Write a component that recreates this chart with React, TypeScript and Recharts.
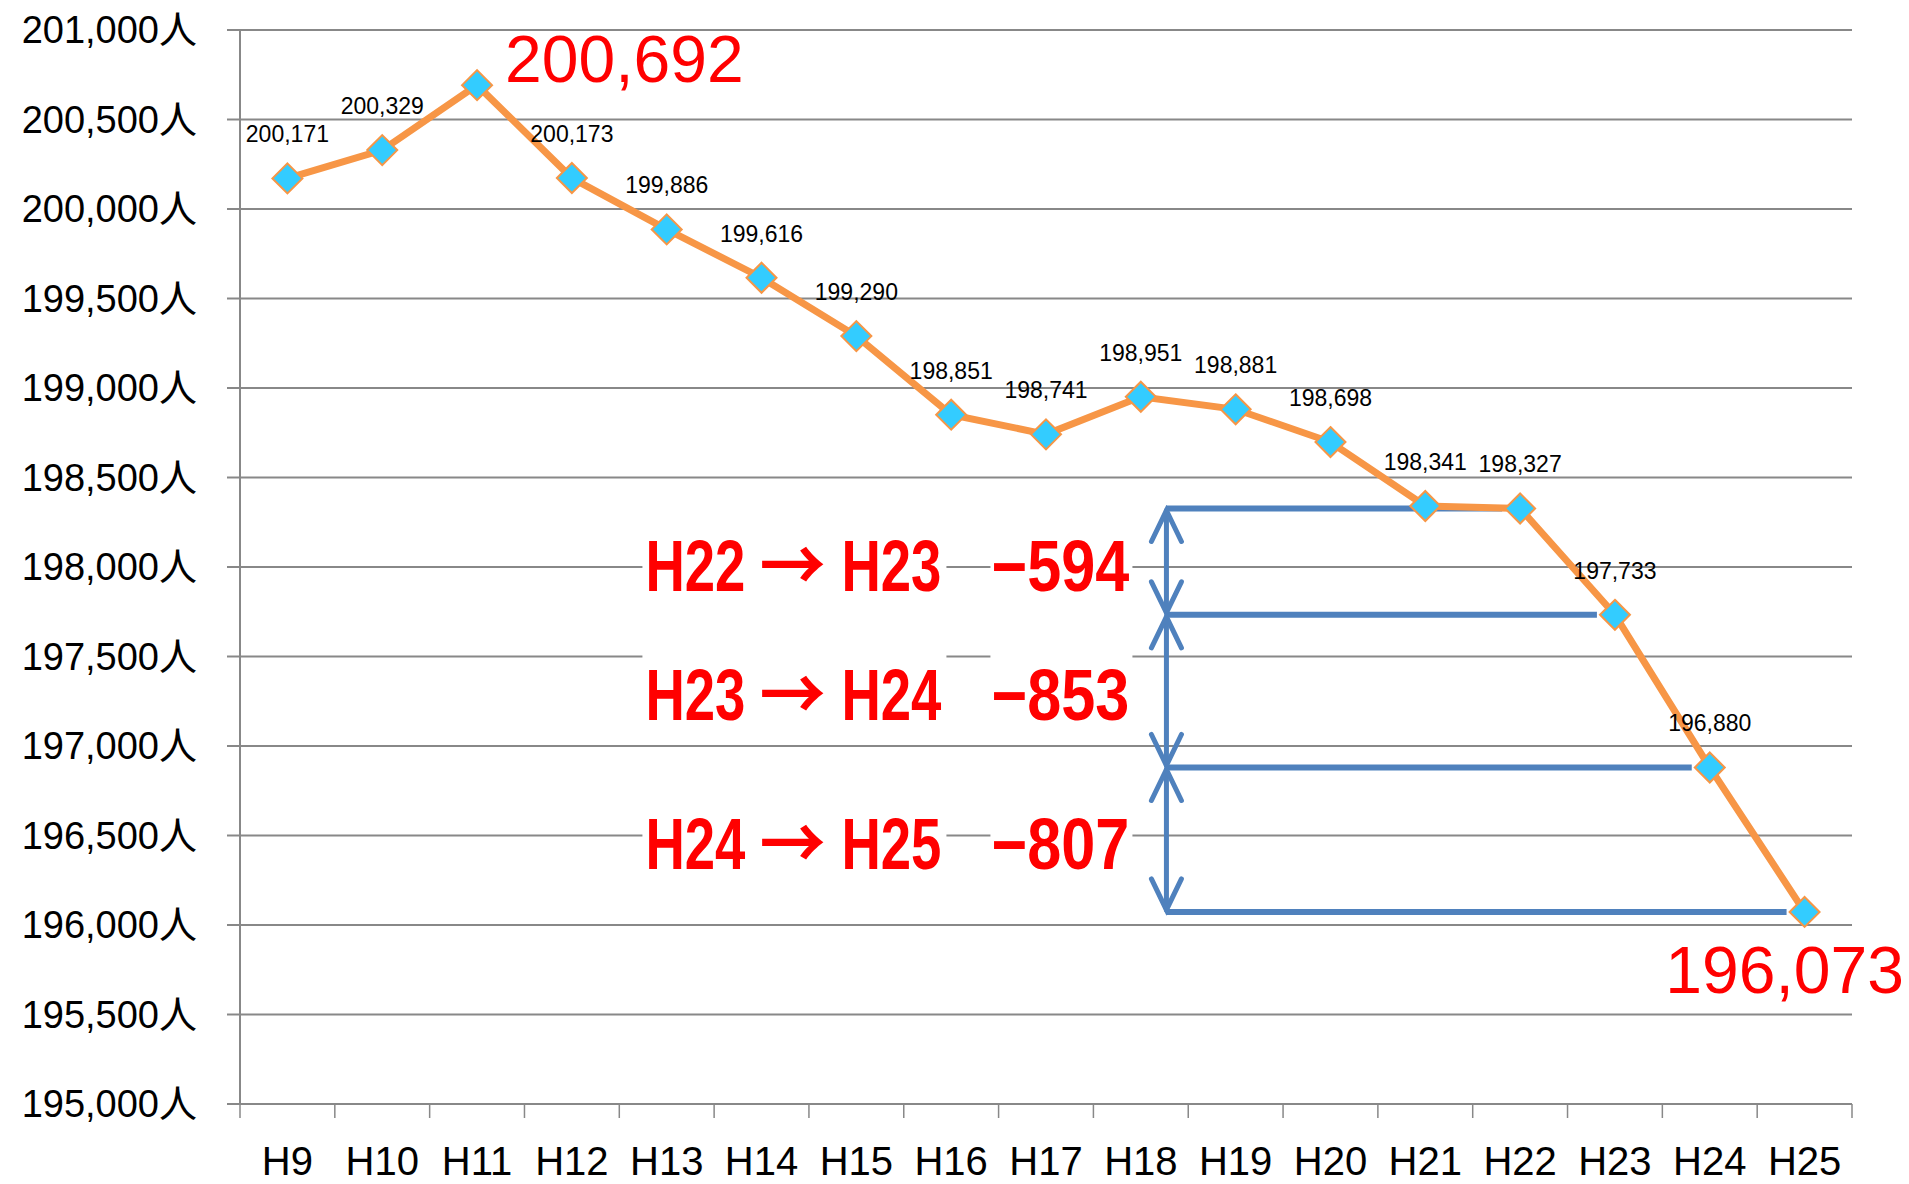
import { LineChart, Line, XAxis, YAxis, CartesianGrid, LabelList, ReferenceLine, ReferenceDot } from "recharts"

const years = ["H9", "H10", "H11", "H12", "H13", "H14", "H15", "H16", "H17", "H18", "H19", "H20", "H21", "H22", "H23", "H24", "H25"]
const population = [200171, 200329, 200692, 200173, 199886, 199616, 199290, 198851, 198741, 198951, 198881, 198698, 198341, 198327, 197733, 196880, 196073]
const yTicks = [195000, 195500, 196000, 196500, 197000, 197500, 198000, 198500, 199000, 199500, 200000, 200500, 201000]
const highlightYears = ["H11", "H25"]
const changeSteps = [
	["H22", "H23"],
	["H23", "H24"],
	["H24", "H25"],
]

const FONT = "'Liberation Sans', 'Noto Sans CJK JP', sans-serif"
const ORANGE = "#F79646"
const BLUE = "#4F81BD"
const GRID = "#888888"
const ARROW_X = 9.77 // position of the double arrows, in x-axis units
const LINE_GAP = 0.19 // blue lines stop a bit before the marker
const X_TICK_LEN = 14
const X_LABEL_GAP = 43

const rows = years.map((year, i) => ({ x: i + 0.5, year, value: population[i] }))
// ticks on every half step: whole numbers get a tick mark, halves get the year label
const xTicks = Array.from({ length: years.length * 2 + 1 }, (_, i) => i / 2)
const fmt = (v: number) => v.toLocaleString("en-US")

function XTick(props: any) {
	const { x, y, payload } = props
	const v = payload.value
	if (Number.isInteger(v)) {
		const top = y - X_LABEL_GAP
		return <line x1={x} y1={top} x2={x} y2={top + X_TICK_LEN} stroke={GRID} strokeWidth={1.5} />
	}
	return (
		<text x={x} y={y} dy="0.71em" textAnchor="middle" fill="#000" fontSize={40} fontFamily={FONT}>
			{years[Math.floor(v)]}
		</text>
	)
}

function Diamond(props: any) {
	const { cx, cy, index } = props
	if (cx == null || cy == null) return null
	const r = 15
	return (
		<path
			key={`dot-${index}`}
			d={`M${cx},${cy - r}L${cx + r},${cy}L${cx},${cy + r}L${cx - r},${cy}Z`}
			fill="#33CCFF"
			stroke={ORANGE}
			strokeWidth={2}
		/>
	)
}

function PointLabel(props: any) {
	const { x, y, value } = props
	const idx = props.index ?? population.indexOf(value)
	const year = years[idx]
	const text = fmt(Number(value))
	if (highlightYears.includes(year)) {
		if (idx === years.length - 1) {
			return (
				<text x={x - 20} y={y + 81} textAnchor="middle" fill="#FF0000" fontSize={66} fontFamily={FONT}>
					{text}
				</text>
			)
		}
		return (
			<text x={x + 28} y={y - 3} fill="#FF0000" fontSize={66} fontFamily={FONT}>
				{text}
			</text>
		)
	}
	return (
		<text x={x} y={y - 36} textAnchor="middle" fill="#000" fontSize={23} fontFamily={FONT}>
			{text}
		</text>
	)
}

function DoubleArrow(props: any) {
	const { x1, y1, y2 } = props
	const top = Math.min(y1, y2)
	const bot = Math.max(y1, y2)
	const h = 33
	const w = 15
	return (
		<g stroke={BLUE} strokeWidth={5} strokeLinecap="round" fill="none">
			<line x1={x1} y1={top + 2} x2={x1} y2={bot - 2} />
			<polyline points={`${x1 - w},${top + h} ${x1},${top + 2} ${x1 + w},${top + h}`} />
			<polyline points={`${x1 - w},${bot - h} ${x1},${bot - 2} ${x1 + w},${bot - h}`} />
		</g>
	)
}

// condensed text: squeeze horizontally with a transform
function Narrow({ x, y, sx, children, family }: any) {
	return (
		<text transform={`translate(${x},${y}) scale(${sx},1)`} fontFamily={family}>
			{children}
		</text>
	)
}

function ChangeLabel(props: any) {
	const { cx, cy, from, to, diff } = props
	const base = cy + 29
	return (
		<g fontFamily={FONT} fontWeight="bold" fontSize={72} fill="#FF0000">
			<rect x={cx - 524} y={cy - 40} width={304} height={85} fill="#fff" />
			<rect x={cx - 176} y={cy - 40} width={142} height={85} fill="#fff" />
			<Narrow x={cx - 521} y={base} sx={0.757}>
				{from}
			</Narrow>
			<Narrow x={cx - 407} y={base} sx={0.92} family="'Noto Sans CJK JP', sans-serif">
				→
			</Narrow>
			<Narrow x={cx - 325} y={base} sx={0.757}>
				{to}
			</Narrow>
			<Narrow x={cx - 175} y={base} sx={0.85}>
				{`−${Math.abs(diff)}`}
			</Narrow>
		</g>
	)
}

export default function App() {
	const levelYears = Array.from(new Set(changeSteps.flat()))

	return (
		<div style={{ position: "absolute", left: 0, top: 0, background: "#fff" }}>
			<LineChart width={1909} height={1184} data={rows} margin={{ top: 30, right: 57, bottom: 0, left: 0 }}>
				<CartesianGrid vertical={false} stroke={GRID} strokeWidth={2} />
				<XAxis
					dataKey="x"
					type="number"
					domain={[0, years.length]}
					ticks={xTicks}
					interval={0}
					tick={XTick}
					tickLine={false}
					tickSize={0}
					tickMargin={X_LABEL_GAP}
					height={80}
					axisLine={{ stroke: GRID, strokeWidth: 2 }}
				/>
				<YAxis
					domain={[195000, 201000]}
					ticks={yTicks}
					interval={0}
					width={240}
					tickSize={13}
					tickMargin={30}
					tickFormatter={(v: number) => `${fmt(v)}人`}
					axisLine={{ stroke: GRID, strokeWidth: 2 }}
					tickLine={{ stroke: GRID, strokeWidth: 2 }}
					tick={{ fill: "#000", fontSize: 38, fontFamily: FONT }}
				/>

				{levelYears.map((year) => {
					const i = years.indexOf(year)
					return (
						<ReferenceLine
							key={`lvl-${year}`}
							segment={[
								{ x: ARROW_X, y: population[i] },
								{ x: rows[i].x - LINE_GAP, y: population[i] },
							]}
							stroke={BLUE}
							strokeWidth={6}
						/>
					)
				})}

				{changeSteps.map(([a, b]) => {
					const va = population[years.indexOf(a)]
					const vb = population[years.indexOf(b)]
					return (
						<ReferenceLine
							key={`arr-${a}`}
							segment={[
								{ x: ARROW_X, y: va },
								{ x: ARROW_X, y: vb },
							]}
							shape={DoubleArrow}
						/>
					)
				})}

				{changeSteps.map(([a, b]) => {
					const va = population[years.indexOf(a)]
					const vb = population[years.indexOf(b)]
					return (
						<ReferenceDot
							key={`lbl-${a}`}
							x={ARROW_X}
							y={(va + vb) / 2}
							r={1}
							shape={(p: any) => <ChangeLabel {...p} from={a} to={b} diff={vb - va} />}
						/>
					)
				})}

				<Line
					dataKey="value"
					stroke={ORANGE}
					strokeWidth={7}
					dot={Diamond}
					activeDot={false}
					isAnimationActive={false}
				>
					<LabelList dataKey="value" content={PointLabel} />
				</Line>
			</LineChart>
		</div>
	)
}
